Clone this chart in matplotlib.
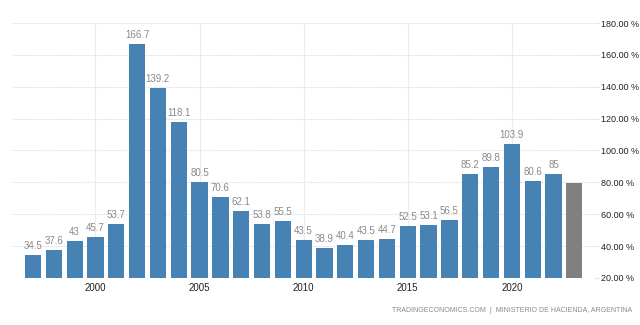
import matplotlib.pyplot as plt

plt.rcParams['font.family'] = ['Liberation Sans', 'DejaVu Sans']

# Argentina government debt to GDP (%)
years = list(range(1997, 2024))
values = [34.5, 37.6, 43, 45.7, 53.7, 166.7, 139.2, 118.1, 80.5, 70.6, 62.1, 53.8, 55.5,
          43.5, 38.9, 40.4, 43.5, 44.7, 52.5, 53.1, 56.5, 85.2, 89.8, 103.9, 80.6, 85, 79.4]
labels = ['34.5', '37.6', '43', '45.7', '53.7', '166.7', '139.2', '118.1', '80.5', '70.6',
          '62.1', '53.8', '55.5', '43.5', '38.9', '40.4', '43.5', '44.7', '52.5', '53.1',
          '56.5', '85.2', '89.8', '103.9', '80.6', '85', '']
yticks = [20, 40, 60, 80, 100, 120, 140, 160, 180]
xticks = [2000, 2005, 2010, 2015, 2020]

base = 20
colors = ['#4682b4'] * (len(values) - 1) + ['#808080']

fig = plt.figure(figsize=(6.4, 3.25), dpi=100)
ax = fig.add_axes([0.019, 0.145, 0.911, 0.784])

heights = [v - base for v in values]
ax.bar(years, heights, bottom=base, width=0.78, color=colors, zorder=3)

for x, v, t in zip(years, values, labels):
    if t:
        ax.text(x, v + 2.5, t, ha='center', va='bottom', fontsize=7, color='#8a8a8a', zorder=4)

ax.set_xlim(1996, 2024)
ax.set_ylim(20, 180)
ax.set_yticks(yticks)
ax.set_yticklabels([f'{t:.2f} %' for t in yticks])
ax.set_xticks(xticks)
ax.set_xticklabels([str(t) for t in xticks])
ax.yaxis.tick_right()
ax.tick_params(axis='y', length=3, color='#e0e0e0', labelsize=6.5, labelcolor='#222222', pad=1)
ax.tick_params(axis='x', length=0, labelsize=7, labelcolor='#222222', pad=4)
ax.grid(True, color='#e4e4e4', linestyle=(0, (1, 0.5)), linewidth=0.8, zorder=0)
for s in ax.spines.values():
    s.set_visible(False)

fig.text(0.988, 0.035, 'TRADINGECONOMICS.COM  |  MINISTERIO DE HACIENDA, ARGENTINA',
         ha='right', va='bottom', fontsize=5, color='#8a8a8a')

fig.savefig('out.png', dpi=100)
